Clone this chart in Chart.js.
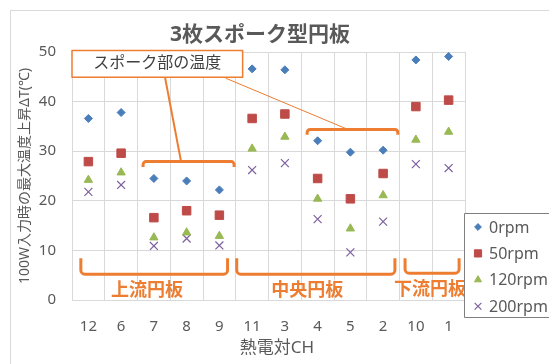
<!DOCTYPE html>
<html>
<head>
<meta charset="utf-8">
<script src="https://cdn.jsdelivr.net/npm/chart.js@4/dist/chart.umd.min.js"></script>
<style>
  html, body { margin: 0; padding: 0; background: #fff; }
  #wrap { width: 549px; height: 364px; position: relative; }
</style>
</head>
<body>
<div id="wrap"><canvas id="c" width="549" height="364"></canvas></div>
<script>
// Thermocouple channels, grouped upstream / middle / downstream disc
const categories = ['12', '6', '7', '8', '9', '11', '3', '4', '5', '2', '10', '1'];
const seriesNames = ['0rpm', '50rpm', '120rpm', '200rpm'];
// Max temperature rise ΔT (°C) at 100 W input
const rpm0   = [36.6, 37.8, 24.5, 24.0, 22.2, 46.6, 46.4, 32.1, 29.8, 30.2, 48.4, 49.1];
const rpm50  = [27.9, 29.6, 16.6, 18.0, 17.1, 36.6, 37.5, 24.5, 20.4, 25.5, 39.0, 40.3];
const rpm120 = [24.2, 25.7, 12.6, 13.6, 12.9, 30.5, 32.9, 20.4, 14.4, 21.1, 32.3, 33.9];
const rpm200 = [21.8, 23.2, 10.9, 12.4, 11.0, 26.2, 27.6, 16.3,  9.6, 15.8, 27.4, 26.6];
const yTicks = [0, 10, 20, 30, 40, 50];

const chartTitle = '3枚スポーク型円板';
const xTitle = '熱電対CH';
const yTitle = '100W入力時の最大温度上昇ΔT(℃)';
const calloutText = 'スポーク部の温度';
const groupLabels = ['上流円板', '中央円板', '下流円板'];

const ORANGE = '#ED7D31';
const TEXT = '#595959';
const FONT = '"Noto Sans", "Noto Sans CJK JP", sans-serif';

const styles = [
  { color: '#4A7EBB', pointStyle: 'rectRot', radius: 4, borderWidth: 1 },
  { color: '#BE4B48', pointStyle: 'rect', radius: 6, borderWidth: 1 },
  { color: '#98B954', pointStyle: 'triangle', radius: 4.8, borderWidth: 1 },
  { color: '#7D60A0', pointStyle: 'crossRot', radius: 5.6, borderWidth: 1.2 }
];
const values = [rpm0, rpm50, rpm120, rpm200];

const datasets = values.map((v, i) => ({
  label: seriesNames[i],
  data: v,
  showLine: false,
  pointStyle: styles[i].pointStyle,
  pointRadius: styles[i].radius,
  pointHoverRadius: styles[i].radius,
  pointBackgroundColor: styles[i].color,
  pointBorderColor: styles[i].color,
  pointBorderWidth: styles[i].borderWidth,
  backgroundColor: styles[i].color,
  borderColor: styles[i].color,
  clip: false
}));

// Helpers to place annotation shapes in axis units (category index, ΔT value)
function px(chart, idx) {
  const s = chart.scales.x;
  const step = s.getPixelForValue(1) - s.getPixelForValue(0);
  return s.getPixelForValue(0) + idx * step;
}
function py(chart, val) { return chart.scales.y.getPixelForValue(val); }

function roundedPath(ctx, pts, r) {
  ctx.beginPath();
  ctx.moveTo(pts[0][0], pts[0][1]);
  for (let i = 1; i < pts.length - 1; i++) {
    ctx.arcTo(pts[i][0], pts[i][1], pts[i + 1][0], pts[i + 1][1], r);
  }
  ctx.lineTo(pts[pts.length - 1][0], pts[pts.length - 1][1]);
  ctx.stroke();
}

// Brackets: [fromIdx, toIdx, barValue, endValue]
const topBrackets = [[1.67, 4.45, 27.9, 26.8], [6.68, 9.45, 34.4, 33.3]];
const bottomBrackets = [[-0.23, 4.25, 8.4, 5.2], [4.53, 9.36, 8.4, 5.2], [9.67, 11.32, 8.4, 5.4]];
const groupLabelPos = [[1.79, 1.8], [6.68, 1.8], [10.43, 2.0]];
const calloutBox = [-0.5, 4.71, 50.3, 44.9];
const leaders = [[2.34, 44.9, 2.83, 27.9, 2], [4.2, 44.7, 7.92, 34.4, 1]];

const framePlugin = {
  id: 'frame',
  beforeDraw(chart) {
    const ctx = chart.ctx;
    ctx.save();
    ctx.fillStyle = '#fff';
    ctx.fillRect(0, 0, chart.width, chart.height);
    ctx.strokeStyle = '#D9D9D9';
    ctx.lineWidth = 1;
    ctx.strokeRect(10.5, 10.5, chart.width + 20, chart.height + 20);
    ctx.restore();
  },
  afterDraw(chart) {
    const ctx = chart.ctx;
    const a = chart.chartArea;
    ctx.save();
    // title
    ctx.fillStyle = TEXT;
    ctx.textAlign = 'center';
    ctx.textBaseline = 'middle';
    ctx.font = 'bold 21px ' + FONT;
    ctx.fillText(chartTitle, 260, 35);
    // axis titles
    ctx.font = '17px ' + FONT;
    ctx.fillText(xTitle, 277, 348);
    ctx.save();
    ctx.translate(25, 176);
    ctx.rotate(-Math.PI / 2);
    ctx.font = '14px ' + FONT;
    ctx.fillText(yTitle, 0, 0);
    ctx.restore();

    // annotations
    ctx.strokeStyle = ORANGE;
    ctx.lineCap = 'butt';
    ctx.lineJoin = 'round';
    ctx.lineWidth = 3;
    topBrackets.forEach(b => {
      const x1 = px(chart, b[0]), x2 = px(chart, b[1]);
      const yb = py(chart, b[2]), ye = py(chart, b[3]);
      roundedPath(ctx, [[x1, ye], [x1, yb], [x2, yb], [x2, ye]], 3);
    });
    bottomBrackets.forEach(b => {
      const x1 = px(chart, b[0]), x2 = px(chart, b[1]);
      const yt = py(chart, b[2]), yb = py(chart, b[3]);
      roundedPath(ctx, [[x1, yt], [x1, yb], [x2, yb], [x2, yt]], 4);
    });
    ctx.fillStyle = ORANGE;
    ctx.font = 'bold 18px ' + FONT;
    groupLabels.forEach((t, i) => {
      ctx.fillText(t, px(chart, groupLabelPos[i][0]), py(chart, groupLabelPos[i][1]));
    });
    // leader lines
    leaders.forEach(l => {
      ctx.lineWidth = l[4];
      ctx.beginPath();
      ctx.moveTo(px(chart, l[0]), py(chart, l[1]));
      ctx.lineTo(px(chart, l[2]), py(chart, l[3]));
      ctx.stroke();
    });
    // callout box
    const bx1 = px(chart, calloutBox[0]), bx2 = px(chart, calloutBox[1]);
    const by1 = py(chart, calloutBox[2]), by2 = py(chart, calloutBox[3]);
    ctx.fillStyle = '#fff';
    ctx.fillRect(bx1, by1, bx2 - bx1, by2 - by1);
    ctx.lineWidth = 1.5;
    ctx.strokeRect(bx1, by1, bx2 - bx1, by2 - by1);
    ctx.fillStyle = '#404040';
    ctx.font = '16px ' + FONT;
    ctx.fillText(calloutText, (bx1 + bx2) / 2, (by1 + by2) / 2);

    // legend
    ctx.fillStyle = '#fff';
    ctx.fillRect(464.5, 213.5, 100, 104);
    ctx.strokeStyle = '#7F7F7F';
    ctx.lineWidth = 1;
    ctx.strokeRect(464.5, 213.5, 100, 104);
    ctx.textAlign = 'left';
    ctx.font = '16px ' + FONT;
    seriesNames.forEach((n, i) => {
      const y = 227 + i * 26.4;
      const st = styles[i];
      ctx.fillStyle = st.color;
      ctx.strokeStyle = st.color;
      ctx.lineWidth = st.borderWidth;
      Chart.helpers.drawPoint(ctx, { pointStyle: st.pointStyle, radius: st.radius * 0.85, rotation: 0, borderWidth: st.borderWidth }, 478, y);
      ctx.fillStyle = TEXT;
      ctx.fillText(n, 489, y + 1);
    });
    ctx.restore();
  }
};

new Chart(document.getElementById('c'), {
  type: 'line',
  data: { labels: categories, datasets },
  options: {
    responsive: false,
    animation: false,
    events: [],
    layout: { padding: { top: 52, right: 84, left: 0, bottom: 0 } },
    plugins: { legend: { display: false }, title: { display: false }, tooltip: { enabled: false } },
    scales: {
      x: {
        type: 'category',
        offset: true,
        grid: { offset: true, color: '#D9D9D9', drawTicks: false },
        border: { display: false },
        ticks: { color: TEXT, font: { family: FONT, size: 15 }, padding: 18, maxRotation: 0, autoSkip: false },
        afterFit(s) { s.height = 64; }
      },
      y: {
        min: 0, max: 50,
        afterBuildTicks(s) { s.ticks = yTicks.map(v => ({ value: v })); },
        grid: { color: '#D9D9D9', drawTicks: false },
        border: { display: false },
        ticks: { color: TEXT, font: { family: FONT, size: 15 }, padding: 16 },
        afterFit(s) { s.width = 72; }
      }
    }
  },
  plugins: [framePlugin]
});
</script>
</body>
</html>
